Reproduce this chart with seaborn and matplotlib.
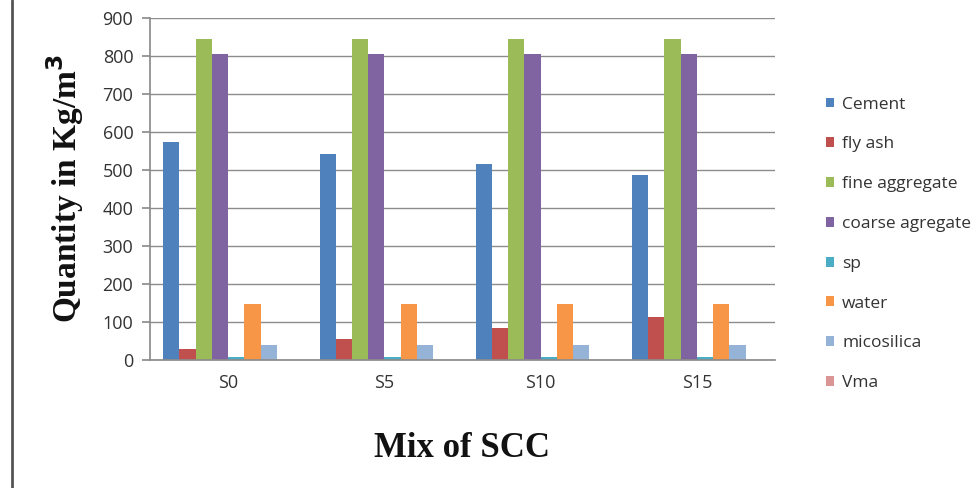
import matplotlib
matplotlib.use("Agg")
import matplotlib.pyplot as plt
import seaborn as sns
import pandas as pd
from matplotlib.lines import Line2D
from matplotlib.patches import Patch

mixes = ["S0", "S5", "S10", "S15"]
materials = ["Cement", "fly ash", "fine aggregate", "coarse agregate", "sp", "water", "micosilica", "Vma"]
cement = [574, 542, 516, 487]
fly_ash = [29, 55, 84, 113]
fine_agg = [845, 845, 845, 845]
coarse_agg = [805, 805, 805, 805]
sp = [8, 8, 8, 8]
water = [147, 147, 147, 147]
micosilica = [40, 40, 40, 40]
vma = [1, 1, 1, 1]
colors = ["#4F81BD", "#C0504D", "#9BBB59", "#8064A2", "#4BACC6", "#F79646", "#95B3D7", "#D99694"]

series = [cement, fly_ash, fine_agg, coarse_agg, sp, water, micosilica, vma]
rows = []
for mat, vals in zip(materials, series):
    for m, v in zip(mixes, vals):
        rows.append({"Mix": m, "Material": mat, "Value": v})
df = pd.DataFrame(rows)

sns.set_theme(style="white")
fig = plt.figure(figsize=(9.76, 4.88), dpi=100)
ax = fig.add_axes([150/976, 1-360/488, 625/976, 342/488])

sns.barplot(data=df, x="Mix", y="Value", hue="Material", order=mixes, hue_order=materials,
            palette=colors, width=0.83, saturation=1, ax=ax, legend=False, linewidth=0)

ax.set_ylim(0, 900)
ax.set_yticks(range(0, 901, 100))
ax.yaxis.grid(True, color="#8c8c8c", linewidth=1)
ax.set_axisbelow(True)
for s in ["top", "right"]:
    ax.spines[s].set_visible(False)
ax.spines["left"].set_color("#8c8c8c")
ax.spines["bottom"].set_color("#8c8c8c")
ax.tick_params(axis="y", which="both", left=True, length=6, color="#8c8c8c", labelsize=13, labelcolor="#333333", pad=6)
ax.tick_params(axis="x", bottom=False, labelsize=13, labelcolor="#333333", pad=4)
for lbl in ax.get_xticklabels() + ax.get_yticklabels():
    lbl.set_family(["Open Sans", "DejaVu Sans"])

ax.set_xlabel("Mix of SCC", fontsize=25, fontweight="bold", family="Liberation Serif", labelpad=29, color="#111111")
ax.set_ylabel("Quantity in Kg/m$^{\\mathbf{3}}$", fontsize=24, fontweight="bold", family="Liberation Serif", labelpad=12, color="#111111")

handles = [Patch(facecolor=c, edgecolor="none") for c in colors]
leg = fig.legend(handles, materials, loc="upper left", bbox_to_anchor=(810/976, 1-81/488),
                 frameon=False, prop={"family": "Open Sans", "size": 12.5}, labelspacing=1.37,
                 handlelength=0.5, handleheight=0.5, handletextpad=0.45, borderpad=0.4)
for t in leg.get_texts():
    t.set_color("#333333")

fig.add_artist(Line2D([12/976, 12/976], [0, 1], transform=fig.transFigure, color="#555555", linewidth=2))

fig.savefig("out.png", dpi=100, facecolor="white")
